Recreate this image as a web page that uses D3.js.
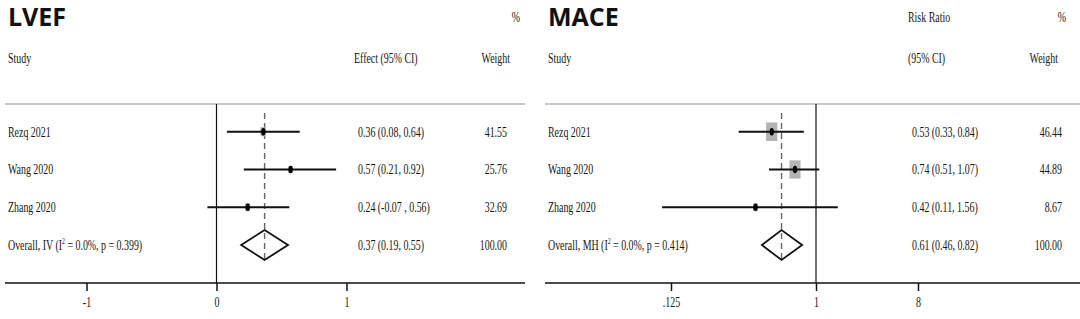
<!DOCTYPE html>
<html>
<head>
<meta charset="utf-8">
<script src="https://cdn.jsdelivr.net/npm/d3@7"></script>
<style>
body { margin: 0; background: #fff; }
svg { display: block; }
</style>
</head>
<body>
<svg width="1080" height="319"></svg>
<script>
// data
var studies = ["Rezq 2021", "Wang 2020", "Zhang 2020"];

var lvefEst = [0.36, 0.57, 0.24];
var lvefLow = [0.08, 0.21, -0.07];
var lvefHigh = [0.64, 0.92, 0.56];
var lvefWeight = [41.55, 25.76, 32.69];
var lvefOverall = [0.37, 0.19, 0.55];
var lvefCiText = ["0.36 (0.08, 0.64)", "0.57 (0.21, 0.92)", "0.24 (-0.07 , 0.56)", "0.37 (0.19, 0.55)"];
var lvefTicks = [-1, 0, 1];
var lvefTickLabels = ["-1", "0", "1"];

var maceEst = [0.53, 0.74, 0.42];
var maceLow = [0.33, 0.51, 0.11];
var maceHigh = [0.84, 1.07, 1.56];
var maceWeight = [46.44, 44.89, 8.67];
var maceOverall = [0.61, 0.46, 0.82];
var maceCiText = ["0.53 (0.33, 0.84)", "0.74 (0.51, 1.07)", "0.42 (0.11, 1.56)", "0.61 (0.46, 0.82)"];
var maceTicks = [0.125, 1, 8];
var maceTickLabels = [".125", "1", "8"];

var svg = d3.select("svg");
svg.append("rect").attr("width", 1080).attr("height", 319).attr("fill", "#fff");

var rows = d3.scalePoint().domain(studies.concat(["Overall"])).range([131.7, 245]);

function label(g, x, y, s, anchor) {
    return g.append("text")
        .attr("transform", "translate(" + x + "," + y + ") scale(0.64,1)")
        .attr("text-anchor", anchor || "start")
        .attr("font-family", "Liberation Serif, Times New Roman, serif")
        .attr("font-size", 15.5)
        .attr("fill", "#151515")
        .text(s);
}

function panel(p) {
    var g = svg.append("g");
    var x = p.x;

    g.append("text")
        .attr("x", p.left + 3).attr("y", 26)
        .attr("font-family", "Open Sans, sans-serif")
        .attr("font-weight", 700)
        .attr("font-size", 25)
        .attr("fill", "#111")
        .text(p.title);

    // header
    if (p.head1) label(g, p.ciX, 22, p.head1);
    label(g, p.pctX, 22, "%", "end");
    label(g, p.left + 3, 63, "Study");
    label(g, p.ciX, 63, p.head2);
    label(g, p.weightX, 63, "Weight", "end");

    g.append("line")
        .attr("x1", p.left).attr("x2", p.right)
        .attr("y1", 104).attr("y2", 104)
        .attr("stroke", "#b5b5b5").attr("stroke-width", 1.5);

    // null line and pooled estimate
    g.append("line")
        .attr("x1", x(p.nullValue)).attr("x2", x(p.nullValue))
        .attr("y1", 104).attr("y2", 283)
        .attr("stroke", "#111").attr("stroke-width", 1.2);

    g.append("line")
        .attr("x1", x(p.overall[0])).attr("x2", x(p.overall[0]))
        .attr("y1", 113).attr("y2", 260)
        .attr("stroke", "#666").attr("stroke-width", 1.4)
        .attr("stroke-dasharray", "6,4");

    var data = studies.map(function(s, i) {
        return { name: s, est: p.est[i], lo: p.low[i], hi: p.high[i], w: p.weight[i] };
    });

    g.selectAll(".box").data(data).enter().append("rect")
        .attr("x", function(d) { return x(d.est) - Math.sqrt(d.w) * p.boxK / 2; })
        .attr("y", function(d) { return rows(d.name) - Math.sqrt(d.w) * p.boxK * 1.65 / 2; })
        .attr("width", function(d) { return Math.sqrt(d.w) * p.boxK; })
        .attr("height", function(d) { return Math.sqrt(d.w) * p.boxK * 1.65; })
        .attr("fill", "#b3b3b3");

    g.selectAll(".ci").data(data).enter().append("line")
        .attr("x1", function(d) { return x(d.lo); })
        .attr("x2", function(d) { return x(d.hi); })
        .attr("y1", function(d) { return rows(d.name); })
        .attr("y2", function(d) { return rows(d.name); })
        .attr("stroke", "#111").attr("stroke-width", 2);

    g.selectAll(".pt").data(data).enter().append("ellipse")
        .attr("cx", function(d) { return x(d.est); })
        .attr("cy", function(d) { return rows(d.name); })
        .attr("rx", 2.2).attr("ry", 3.8)
        .attr("fill", "#000");

    var yo = rows("Overall");
    g.append("path")
        .attr("d", d3.line()([
            [x(p.overall[1]), yo], [x(p.overall[0]), yo - 15],
            [x(p.overall[2]), yo], [x(p.overall[0]), yo + 15]
        ]) + "Z")
        .attr("fill", "none").attr("stroke", "#111").attr("stroke-width", 1.8);

    // row texts
    data.forEach(function(d, i) {
        var y = rows(d.name) + 5;
        label(g, p.left + 3, y, d.name);
        label(g, p.ciX + 4, y, p.ciText[i]);
        label(g, p.wX, y, d.w.toFixed(2), "end");
    });
    var ot = label(g, p.left + 3, yo + 5, "");
    ot.append("tspan").text(p.overallName + " (I");
    ot.append("tspan").attr("font-size", 9).attr("dy", -6).text("2");
    ot.append("tspan").attr("dy", 6).text(" = 0.0%, p = " + p.pValue + ")");
    label(g, p.ciX + 4, yo + 5, p.ciText[3]);
    label(g, p.wX, yo + 5, "100.00", "end");

    // x axis
    g.append("line")
        .attr("x1", p.left).attr("x2", p.right)
        .attr("y1", 283).attr("y2", 283)
        .attr("stroke", "#111").attr("stroke-width", 1.3);

    var ax = g.append("g").attr("transform", "translate(0,283)")
        .call(d3.axisBottom(x).tickValues(p.ticks)
            .tickFormat(function(d, i) { return p.tickLabels[i]; })
            .tickSize(8).tickPadding(5));
    ax.select(".domain").remove();
    ax.selectAll(".tick line").attr("stroke", "#111").attr("stroke-width", 1.5);
    ax.selectAll(".tick text")
        .attr("transform", "scale(0.64,1)")
        .attr("font-family", "Liberation Serif, Times New Roman, serif")
        .attr("font-size", 15.5)
        .attr("fill", "#151515");
}

panel({
    title: "LVEF", left: 5, right: 525,
    x: d3.scaleLinear().domain([-1, 1]).range([86.5, 346.5]),
    nullValue: 0,
    est: lvefEst, low: lvefLow, high: lvefHigh, weight: lvefWeight,
    overall: lvefOverall, ciText: lvefCiText,
    ticks: lvefTicks, tickLabels: lvefTickLabels,
    head1: null, head2: "Effect (95% CI)",
    ciX: 354, wX: 507, pctX: 520, weightX: 510, boxK: 0.85,
    overallName: "Overall, IV", pValue: "0.399"
});

panel({
    title: "MACE", left: 545, right: 1080,
    x: d3.scaleLog().base(2).domain([0.125, 1, 8]).range([671, 816, 918]),
    nullValue: 1,
    est: maceEst, low: maceLow, high: maceHigh, weight: maceWeight,
    overall: maceOverall, ciText: maceCiText,
    ticks: maceTicks, tickLabels: maceTickLabels,
    head1: "Risk Ratio", head2: "(95% CI)",
    ciX: 908, wX: 1062, pctX: 1066, weightX: 1058, boxK: 1.65,
    overallName: "Overall, MH", pValue: "0.414"
});
</script>
</body>
</html>
